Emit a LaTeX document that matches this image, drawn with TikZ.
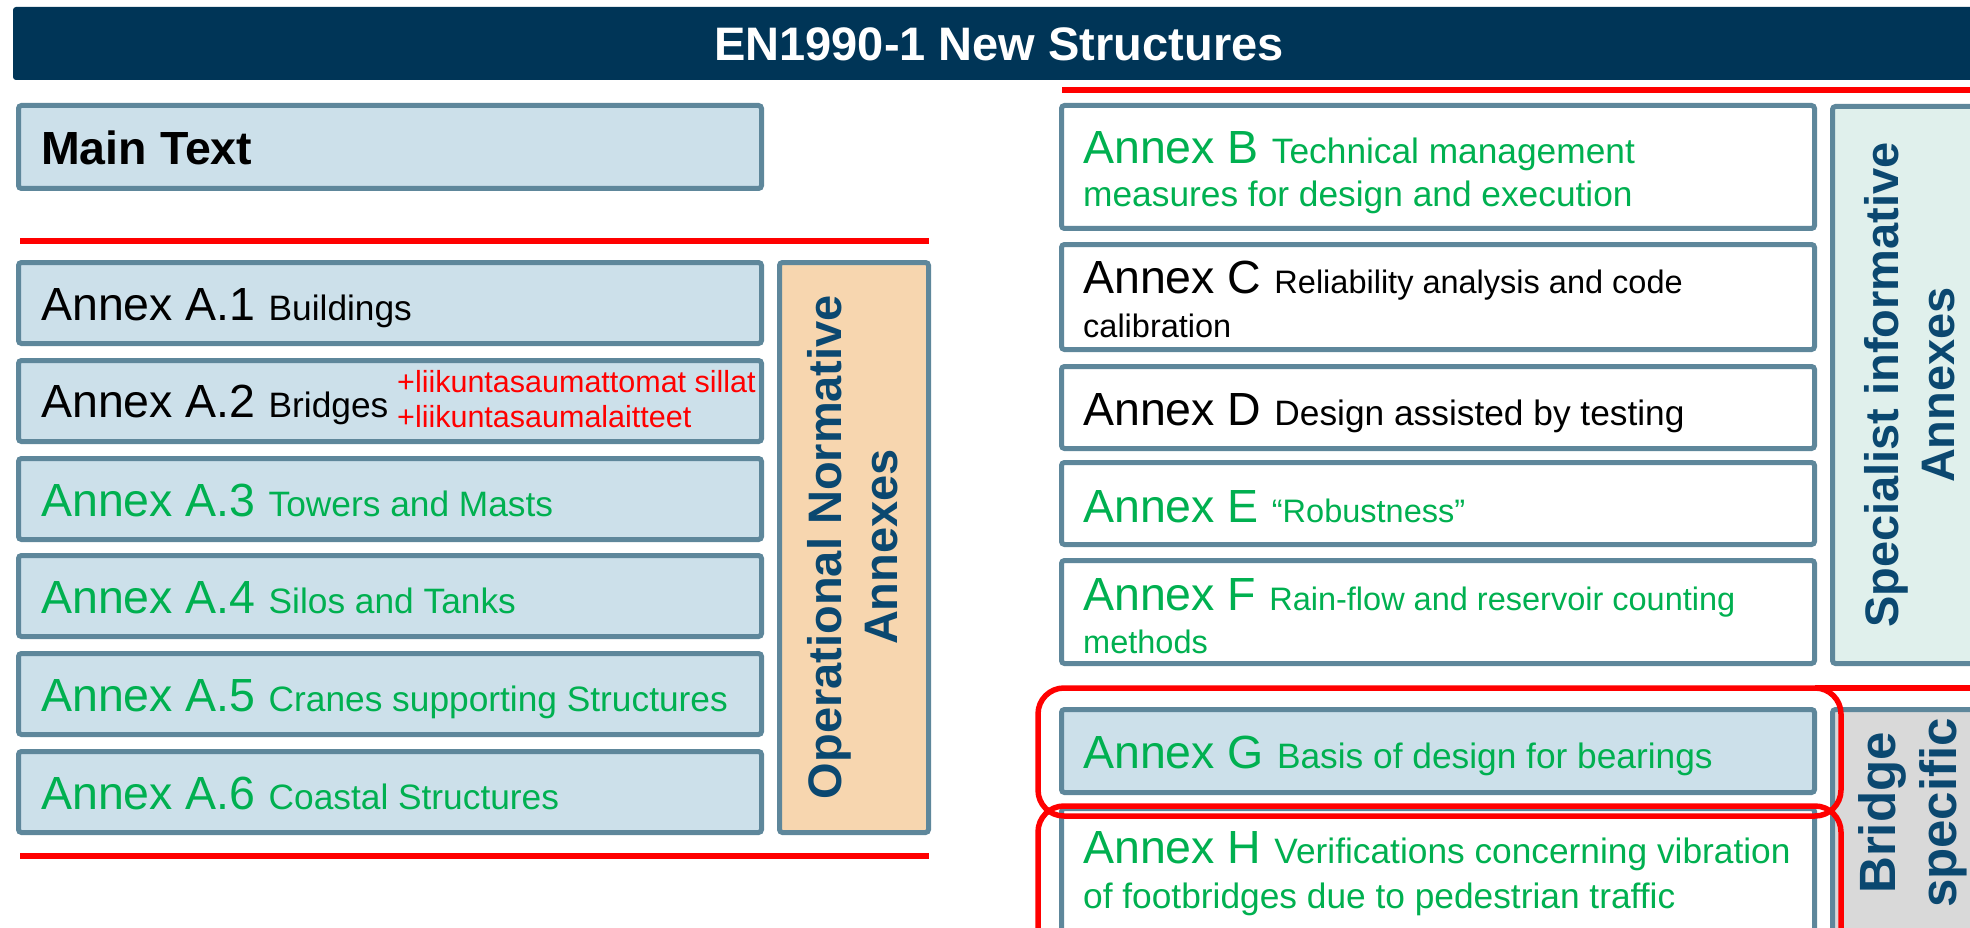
\documentclass[tikz,border=0pt]{standalone}
\usepackage{fontspec}
\setmainfont{Liberation Sans}
\definecolor{barnavy}{HTML}{003557}
\definecolor{boxline}{HTML}{5E879B}
\definecolor{boxfill}{HTML}{CCE0EA}
\definecolor{ongreen}{HTML}{00B050}
\definecolor{labelblue}{HTML}{0B4870}
\definecolor{peach}{HTML}{F7D6AF}
\definecolor{mint}{HTML}{E0F0EC}
\definecolor{greybox}{HTML}{D9D9D9}
\newcommand\annexfont{\fontsize{46.5pt}{50pt}\selectfont}
\newcommand\descfont{\fontsize{35.3pt}{40pt}\selectfont}
\newcommand\smalldesc{\fontsize{32.5pt}{38pt}\selectfont}
\begin{document}
\begin{tikzpicture}[x=1pt,y=-1pt,
  frame/.style={draw=boxline, line width=5pt, rounded corners=3pt, inner sep=0pt},
  lbox/.style={frame, fill=boxfill, minimum width=743pt, minimum height=81pt},
  rbox/.style={frame, fill=white, minimum width=753pt},
  sidebox/.style={frame, minimum width=160pt},
  lbl/.style={anchor=base west, inner sep=0pt},
  vlabel/.style={rotate=90, align=center, inner sep=0pt, text=labelblue,
    font=\bfseries\fontsize{47pt}{56pt}\selectfont},
  redline/.style={draw=red, line width=6pt},
  redround/.style={draw=red, line width=5.5pt, rounded corners=26pt}]
\useasboundingbox (0,0) rectangle (1970,928);

% title bar
\node[fill=barnavy, rounded corners=3pt, minimum width=1980pt, minimum height=73pt, inner sep=0pt]
  (bar) at (1003,43.5) {};
\node[anchor=base, inner sep=0pt, text=white, font=\bfseries\fontsize{47pt}{50pt}\selectfont]
  (ttl) at (999,61) {EN1990-1 New Structures};

% left column
\node[lbox, minimum height=83pt] (main) at (390,147) {};
\node[lbl, font=\bfseries\annexfont] (maint) at (41,165) {Main Text};

\node[lbox] (a1) at (390,303) {};
\node[lbox] (a2) at (390,401) {};
\node[lbox] (a3) at (390,499) {};
\node[lbox] (a4) at (390,596) {};
\node[lbox] (a5) at (390,694) {};
\node[lbox] (a6) at (390,792) {};
\node[lbl] (a1t) at (41,320) {\annexfont Annex A.1 \descfont Buildings};
\node[lbl] (a2t) at (41,417) {\annexfont Annex A.2 \descfont Bridges};
\node[lbl, text=red, font=\fontsize{30.5pt}{34pt}\selectfont] (a2r1) at (397,392) {+liikuntasaumattomat sillat};
\node[lbl, text=red, font=\fontsize{30.5pt}{34pt}\selectfont] (a2r2) at (397,427) {+liikuntasaumalaitteet};
\node[lbl, text=ongreen] (a3t) at (41,516) {\annexfont Annex A.3 \descfont Towers and Masts};
\node[lbl, text=ongreen] (a4t) at (41,613) {\annexfont Annex A.4 \descfont Silos and Tanks};
\node[lbl, text=ongreen] (a5t) at (41,711) {\annexfont Annex A.5 \descfont Cranes supporting Structures};
\node[lbl, text=ongreen] (a6t) at (41,809) {\annexfont Annex A.6 \descfont Coastal Structures};

\node[frame, fill=peach, minimum width=149pt, minimum height=570pt] (oper) at (854,547.5) {};
\node[vlabel] (opert) at (853,547) {Operational Normative\\Annexes};

\draw[redline] (20,241) -- (929,241);
\draw[redline] (20,856) -- (929,856);

% right column
\draw[redline] (1062,90) -- (1975,90);
\node[rbox, minimum height=123pt] (b) at (1438,167) {};
\node[rbox, minimum height=105pt] (c) at (1438,297) {};
\node[rbox, minimum height=82pt] (d) at (1438,407.5) {};
\node[rbox, minimum height=82pt] (e) at (1438,503.5) {};
\node[rbox, minimum height=103pt] (f) at (1438,612) {};
\node[rbox, fill=boxfill, minimum height=83pt] (g) at (1438,751) {};
\node[rbox, minimum height=149pt] (h) at (1438,883) {};

\node[lbl, text=ongreen] (bt1) at (1083,164) {\annexfont Annex B \descfont Technical management};
\node[lbl, text=ongreen] (bt2) at (1083,207) {\descfont measures for design and execution};
\node[lbl] (ct1) at (1083,293) {\annexfont Annex C \smalldesc Reliability analysis and code};
\node[lbl] (ct2) at (1083,337) {\smalldesc calibration};
\node[lbl] (dt) at (1083,425) {\annexfont Annex D \descfont Design assisted by testing};
\node[lbl, text=ongreen] (et) at (1083,522) {\annexfont Annex E \smalldesc “Robustness”};
\node[lbl, text=ongreen] (ft1) at (1083,610) {\annexfont Annex F \smalldesc Rain-flow and reservoir counting};
\node[lbl, text=ongreen] (ft2) at (1083,653) {\smalldesc methods};
\node[lbl, text=ongreen] (gt) at (1083,768) {\annexfont Annex G \descfont Basis of design for bearings};
\node[lbl, text=ongreen] (ht1) at (1083,863) {\annexfont Annex H \descfont Verifications concerning vibration};
\node[lbl, text=ongreen] (ht2) at (1083,908) {\descfont of footbridges due to pedestrian traffic};

\node[sidebox, fill=mint, minimum height=557pt] (spec) at (1912.5,385) {};
\node[vlabel] (spect) at (1910,385) {Specialist informative\\Annexes};
\node[sidebox, fill=greybox, minimum height=248pt] (brg) at (1912.5,833.5) {};
\node[vlabel, font=\bfseries\fontsize{51pt}{61pt}\selectfont] (brgt) at (1913,813) {Bridge\\specific};

% bridge-specific highlight
\draw[redline] (1815,688) -- (1975,688);
\draw[redround] (1038,688) rectangle (1841,816);
\draw[redround] (1038,806) rectangle (1841,955);
\end{tikzpicture}
\end{document}
